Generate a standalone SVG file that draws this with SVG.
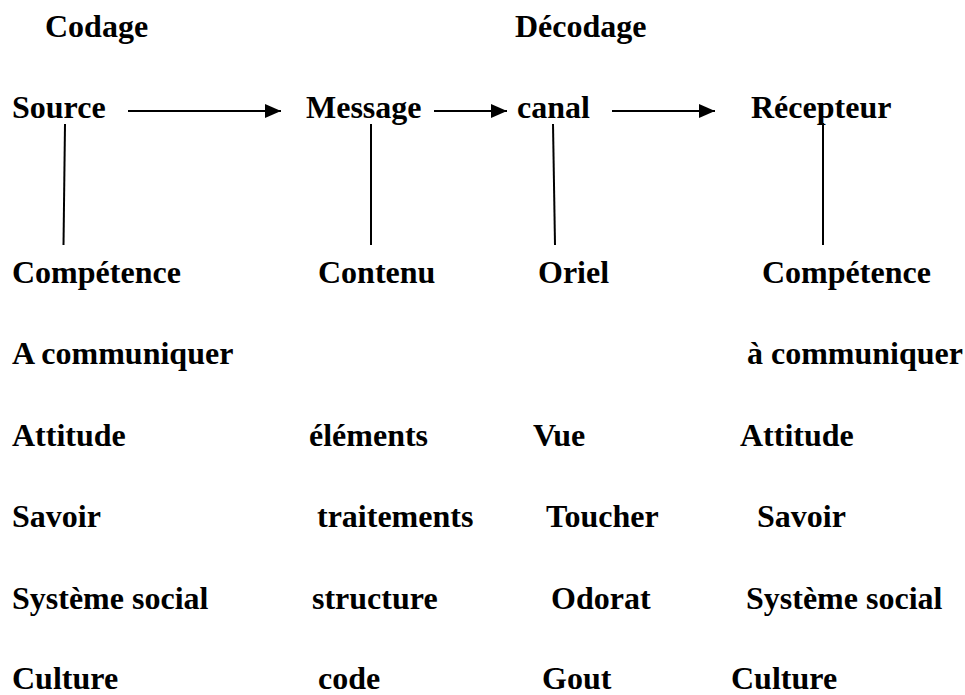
<svg xmlns="http://www.w3.org/2000/svg" width="965" height="695" viewBox="0 0 965 695">
<style>
text{font-family:"Liberation Serif","Times New Roman",serif;font-weight:bold;font-size:32px;fill:#000}
.ln{stroke:#000;stroke-width:2;fill:none}
</style>
<defs>
<marker id="ah" markerUnits="userSpaceOnUse" markerWidth="17" markerHeight="15" refX="16" refY="7" orient="auto">
<path d="M0,0 L16,7 L0,14 z" fill="#000"/>
</marker>
</defs>
<rect width="965" height="695" fill="#fff"/>
<g id="connectors">
<line class="ln" x1="128" y1="111" x2="281" y2="111" marker-end="url(#ah)"/>
<line class="ln" x1="434" y1="111" x2="507" y2="111" marker-end="url(#ah)"/>
<line class="ln" x1="612" y1="111" x2="715" y2="111" marker-end="url(#ah)"/>
<line class="ln" x1="65" y1="124" x2="63.5" y2="245"/>
<line class="ln" x1="371" y1="124" x2="371" y2="245"/>
<line class="ln" x1="553" y1="124" x2="555" y2="245"/>
<line class="ln" x1="823" y1="123" x2="823" y2="245"/>
</g>
<g id="header-codage"><text x="45" y="37">Codage</text></g>
<g id="header-decodage"><text x="515" y="37">Décodage</text></g>
<g id="node-source"><text x="12" y="118">Source</text></g>
<g id="node-message"><text x="306" y="118">Message</text></g>
<g id="node-canal"><text x="517" y="118">canal</text></g>
<g id="node-recepteur"><text x="751" y="118">Récepteur</text></g>
<g id="col-source">
<text x="12" y="283">Compétence</text>
<text x="12" y="364">A communiquer</text>
<text x="12" y="446">Attitude</text>
<text x="12" y="527">Savoir</text>
<text x="12" y="609">Système social</text>
<text x="12" y="689">Culture</text>
</g>
<g id="col-message">
<text x="318" y="283">Contenu</text>
<text x="309" y="446">éléments</text>
<text x="317" y="527">traitements</text>
<text x="312" y="609">structure</text>
<text x="318" y="689">code</text>
</g>
<g id="col-canal">
<text x="538" y="283">Oriel</text>
<text x="533" y="446">Vue</text>
<text x="546" y="527">Toucher</text>
<text x="551" y="609">Odorat</text>
<text x="542" y="689">Gout</text>
</g>
<g id="col-recepteur">
<text x="762" y="283">Compétence</text>
<text x="747" y="364">à communiquer</text>
<text x="740" y="446">Attitude</text>
<text x="757" y="527">Savoir</text>
<text x="746" y="609">Système social</text>
<text x="731" y="689">Culture</text>
</g>
</svg>
